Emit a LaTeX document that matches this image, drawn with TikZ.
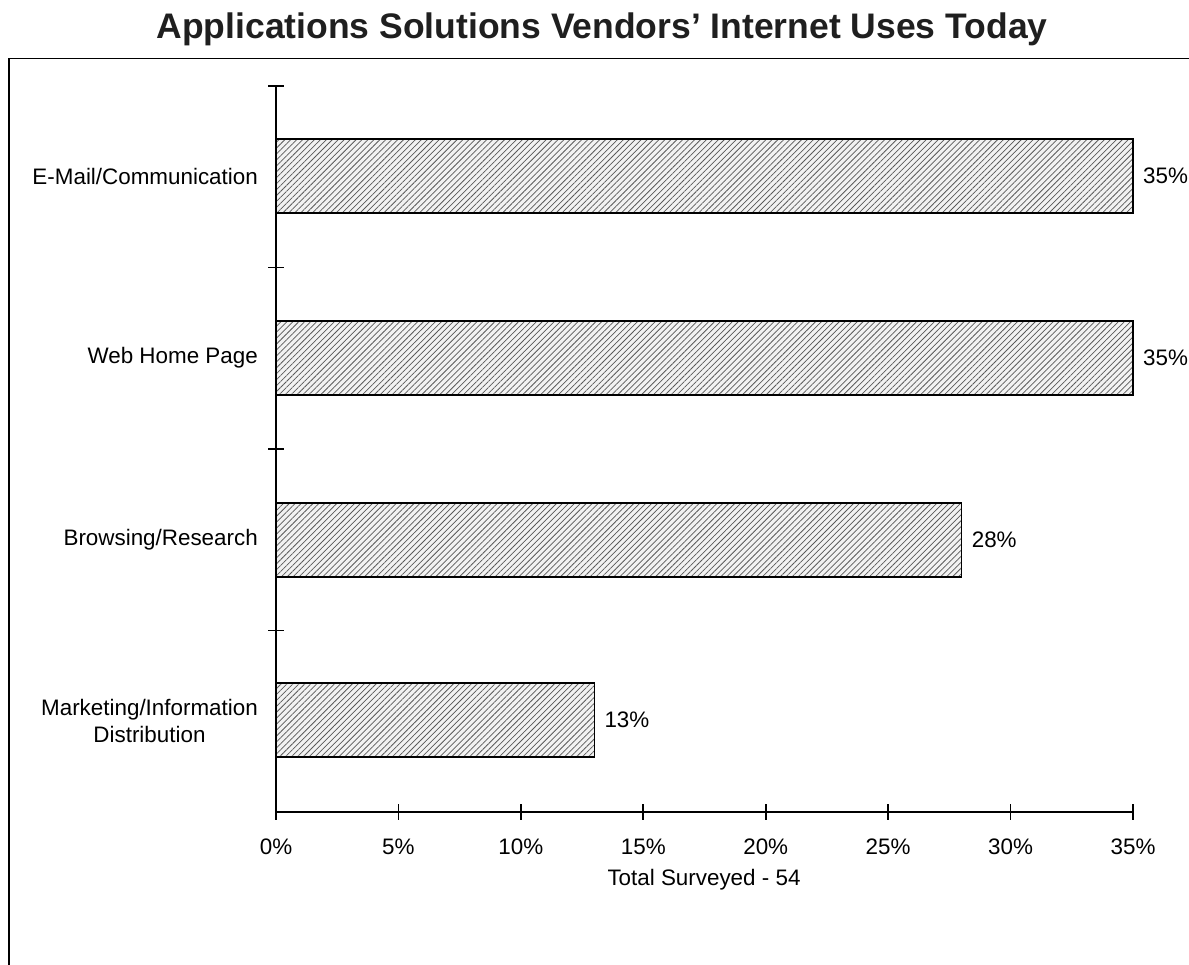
\documentclass[tikz,border=0pt]{standalone}
\usepackage{fontspec}
\setmainfont{Liberation Sans}
\usetikzlibrary{patterns.meta}
\begin{document}
\begin{tikzpicture}[x=1pt,y=-1pt,
  lbl/.style={font=\fontsize{22.4}{27}\selectfont, inner sep=0pt},
  barbox/.style={draw=black, line width=1.6pt, anchor=west, minimum height=74pt, inner sep=0pt, outer sep=0pt,
    preaction={fill=gray!10},
    preaction={pattern={Lines[angle=45,distance=4.2pt,line width=0.75pt]}, pattern color=black!65}},
  axisline/.style={line width=1.8pt},
  tickline/.style={line width=1.6pt}]
\useasboundingbox (0,0) rectangle (1189,965);
% title
\node[font=\bfseries\fontsize{35.5}{40}\selectfont, inner sep=0pt, text=black!88] (title) at (602,29) {Applications Solutions Vendors’ Internet Uses Today};
% frame
\draw[line width=1.8pt] (9,965) -- (9,58.5) -- (1189,58.5);
% axes
\coordinate (o) at (276,812);
\coordinate (ytop) at (276,86);
\coordinate (xend) at (1133,812);
\draw[axisline] (ytop) -- (o) -- (xend);
% y ticks
\foreach \y in {86,267.5,449,630.5} {
  \draw[tickline] (268,\y) -- (284,\y);
}
% x ticks and labels
\foreach \i/\p in {0/0,1/5,2/10,3/15,4/20,5/25,6/30,7/35} {
  \draw[tickline] ({276+\i*122.43},804) -- ({276+\i*122.43},820);
  \node[lbl] (xt\i) at ({276+\i*122.43},847) {\p\%};
}
\node[lbl] (xtitle) at (704,880) {Total Surveyed - 54};
% bars
\node[barbox, minimum width=857pt] (b1) at (276,176) {};
\node[barbox, minimum width=857pt] (b2) at (276,358) {};
\node[barbox, minimum width=685.6pt] (b3) at (276,540) {};
\node[barbox, minimum width=318.3pt] (b4) at (276,720) {};
% value labels
\node[lbl, anchor=west] (v1) at ([xshift=10pt]b1.east) {35\%};
\node[lbl, anchor=west] (v2) at ([xshift=10pt]b2.east) {35\%};
\node[lbl, anchor=west] (v3) at ([xshift=10pt]b3.east) {28\%};
\node[lbl, anchor=west] (v4) at ([xshift=10pt]b4.east) {13\%};
% category labels
\node[lbl, anchor=east] (c1) at (258,176) {E-Mail/Communication};
\node[lbl, anchor=east] (c2) at (258,358) {Web Home Page};
\node[lbl, anchor=east] (c3) at (258,540) {Browsing/Research};
\node[lbl, anchor=east, align=center] (c4) at (258,721) {Marketing/Information\\Distribution};
\end{tikzpicture}
\end{document}
